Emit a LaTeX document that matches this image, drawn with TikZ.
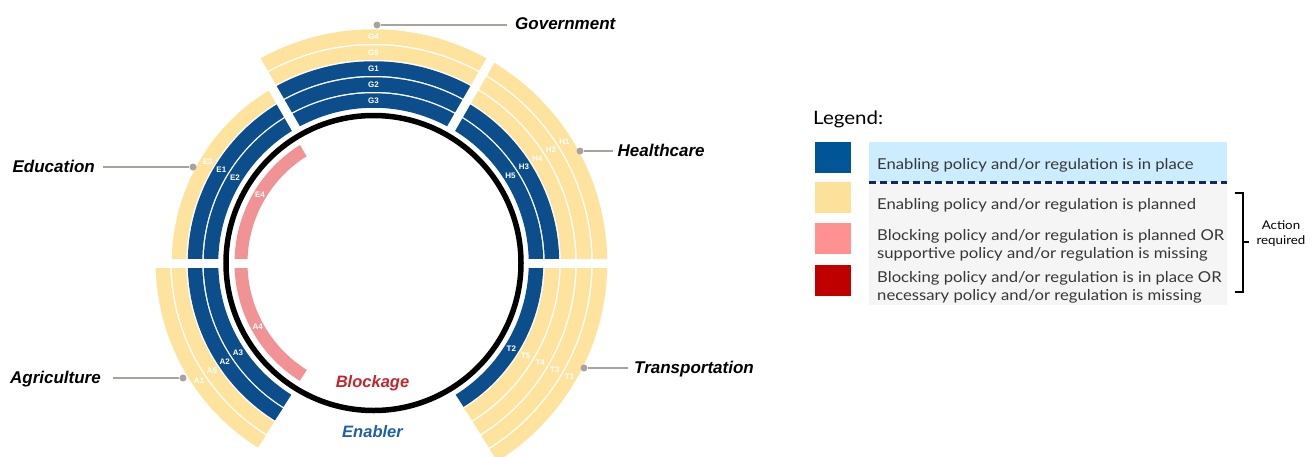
\documentclass[tikz,border=0pt]{standalone}
\usepackage{fontspec}
\setmainfont{Liberation Sans}
\newfontfamily\legfont[FakeStretch=1.11]{Lato}
\definecolor{ringblue}{RGB}{12,78,140}
\definecolor{ringyellow}{RGB}{253,227,157}
\definecolor{ringpink}{RGB}{241,146,148}
\definecolor{legblue}{RGB}{0,85,150}
\definecolor{legyellow}{RGB}{253,225,155}
\definecolor{legpink}{RGB}{255,145,145}
\definecolor{legred}{RGB}{192,0,0}
\definecolor{bandblue}{RGB}{204,236,255}
\definecolor{bandgray}{RGB}{245,245,245}
\definecolor{dashnavy}{RGB}{20,40,90}
\definecolor{leadgray}{RGB}{168,163,158}
\definecolor{legtextc}{RGB}{55,55,55}
\definecolor{blockred}{RGB}{192,39,45}
\definecolor{enablblue}{RGB}{31,95,168}
\newcommand\rarc[4]{\draw[ring,#1] ([shift={(C)}]#3:#2) arc[start angle=#3,end angle=#4,radius=#2];}
\begin{document}
\begin{tikzpicture}[x=1pt,y=1pt,
  ring/.style={line width=14.5pt},
  pinkring/.style={line width=13pt},
  lab/.style={text=white,font=\bfseries\fontsize{8}{8}\selectfont,inner sep=0pt},
  title/.style={font=\bfseries\itshape\fontsize{17}{18}\selectfont,inner sep=0pt},
  ctitle/.style={font=\bfseries\itshape\fontsize{16.5}{18}\selectfont,inner sep=0pt},
  leader/.style={draw=leadgray,line width=1.2pt},
  ldot/.style={circle,fill=leadgray,inner sep=0pt,minimum size=7pt},
  gapline/.style={white,line width=9pt},
  legsq/.style={minimum width=36pt,minimum height=31pt,inner sep=0pt},
  legtext/.style={font=\legfont\fontsize{15}{18}\selectfont,text=legtextc,anchor=base west,inner sep=0pt},
]
\useasboundingbox (0,0) rectangle (1312,-456);
\coordinate (C) at (373.5,-263);
% Government 60-120
\rarc{ringblue}{162.5}{60}{120}
\rarc{ringblue}{178.5}{60}{120}
\rarc{ringblue}{194.5}{60}{120}
\rarc{ringyellow}{210.5}{60}{120}
\rarc{ringyellow}{226.5}{60}{120}
% Healthcare 0-60
\rarc{ringblue}{162.5}{0}{60}
\rarc{ringblue}{178.5}{0}{60}
\rarc{ringyellow}{194.5}{0}{60}
\rarc{ringyellow}{210.5}{0}{60}
\rarc{ringyellow}{226.5}{0}{60}
% Education 120-180
\rarc{ringblue}{162.5}{120}{180}
\rarc{ringblue}{178.5}{120}{180}
\rarc{ringyellow}{194.5}{120}{180}
\draw[pinkring,ringpink] ([shift={(C)}]120:132.5) arc[start angle=120,end angle=180,radius=132.5];
% Agriculture 180-238
\rarc{ringblue}{162.5}{180}{238}
\rarc{ringblue}{178.5}{180}{238}
\rarc{ringyellow}{194.5}{180}{238}
\rarc{ringyellow}{210.5}{180}{238}
\draw[pinkring,ringpink] ([shift={(C)}]180:132.5) arc[start angle=180,end angle=238,radius=132.5];
% Transportation -58-0
\rarc{ringblue}{162.5}{-58}{0}
\rarc{ringyellow}{178.5}{-58}{0}
\rarc{ringyellow}{194.5}{-58}{0}
\rarc{ringyellow}{210.5}{-58}{0}
\rarc{ringyellow}{226.5}{-58}{0}
% gaps
\foreach \a in {0,60,120,180} \draw[gapline] (C) -- ([shift={(C)}]\a:242);
% black circle
\draw[line width=5.5pt] (C) circle[radius=147.5];
% ring labels
\node[lab] (g4) at ([shift={(C)}]90:226.5) {G4};
\node[lab] (g5) at ([shift={(C)}]90:210.5) {G5};
\node[lab] (g1) at ([shift={(C)}]90:194.5) {G1};
\node[lab] (g2) at ([shift={(C)}]90:178.5) {G2};
\node[lab] (g3) at ([shift={(C)}]90:162.5) {G3};
\node[lab] (h1) at ([shift={(C)}]32.5:226.5) {H1};
\node[lab] (h2) at ([shift={(C)}]32.5:210.5) {H2};
\node[lab] (h4) at ([shift={(C)}]32.5:194.5) {H4};
\node[lab] (h3) at ([shift={(C)}]32.5:178.5) {H3};
\node[lab] (h5) at ([shift={(C)}]32.5:162.5) {H5};
\node[lab] (e3) at ([shift={(C)}]148.5:194.5) {E3};
\node[lab] (e1) at ([shift={(C)}]148.5:178.5) {E1};
\node[lab] (e2) at ([shift={(C)}]148.5:162.5) {E2};
\node[lab] (e4) at ([shift={(C)}]149:132.5) {E4};
\node[lab] (a1) at ([shift={(C)}]214:210.5) {A1};
\node[lab] (a5) at ([shift={(C)}]213.8:194.5) {A5};
\node[lab] (a2) at ([shift={(C)}]213.5:178.5) {A2};
\node[lab] (a3) at ([shift={(C)}]213.5:162.5) {A3};
\node[lab] (a4) at ([shift={(C)}]209:132.5) {A4};
\node[lab] (t1) at ([shift={(C)}]-30:226.5) {T1};
\node[lab] (t3) at ([shift={(C)}]-30.5:210.5) {T3};
\node[lab] (t4) at ([shift={(C)}]-31:194.5) {T4};
\node[lab] (t5) at ([shift={(C)}]-31.5:178.5) {T5};
\node[lab] (t2) at ([shift={(C)}]-32:162.5) {T2};
% leaders and titles
\node[ldot] (gd) at (377,-25) {};
\coordinate (ge) at (507,-25);
\draw[leader] (gd) -- (ge);
\node[title,anchor=base west] (gov) at (515,-29) {Government};
\node[ldot] (hd) at (580,-151) {};
\coordinate (he) at (613,-151);
\draw[leader] (hd) -- (he);
\node[title,anchor=base west] (hea) at (617.5,-156) {Healthcare};
\node[ldot] (ed) at (193,-167) {};
\coordinate (ee) at (103,-167);
\draw[leader] (ed) -- (ee);
\node[title,anchor=base east] (edu) at (95,-172) {Education};
\node[ldot] (ad) at (183,-378) {};
\coordinate (ae) at (113,-378);
\draw[leader] (ad) -- (ae);
\node[title,anchor=base east] (agr) at (101,-383.5) {Agriculture};
\node[ldot] (td) at (584,-368) {};
\coordinate (te) at (628,-368);
\draw[leader] (td) -- (te);
\node[title,anchor=base west] (tra) at (634,-373) {Transportation};
\node[ctitle,anchor=base,text=blockred] (blk) at (372.5,-387) {Blockage};
\node[ctitle,anchor=base,text=enablblue] (enb) at (372.5,-437) {Enabler};
% legend
\node[font=\legfont\fontsize{18.5}{20}\selectfont,anchor=base west,inner sep=0pt] (legt) at (813,-124) {Legend:};
\fill[bandblue] (869,-142) rectangle (1227,-182);
\fill[bandgray] (869,-183) rectangle (1227,-305);
\draw[dashnavy,line width=2.5pt,dash pattern=on 7pt off 4pt] (869,-182.5) -- (1227,-182.5);
\node[legsq,fill=legblue] (sq1) at (833,-157.5) {};
\node[legsq,fill=legyellow] (sq2) at (833,-197.5) {};
\node[legsq,fill=legpink] (sq3) at (833,-238.5) {};
\node[legsq,fill=legred] (sq4) at (833,-280.5) {};
\node[legtext] (l1) at (877,-169) {Enabling policy and/or regulation is in place};
\node[legtext] (l2) at (877,-209) {Enabling policy and/or regulation is planned};
\node[legtext] (l3a) at (877,-240) {Blocking policy and/or regulation is planned OR};
\node[legtext] (l3b) at (877,-258) {supportive policy and/or regulation is missing};
\node[legtext] (l4a) at (877,-282) {Blocking policy and/or regulation is in place OR};
\node[legtext] (l4b) at (877,-300) {necessary policy and/or regulation is missing};
\coordinate (b1) at (1235,-193);
\coordinate (b2) at (1243,-193);
\coordinate (b3) at (1243,-292);
\coordinate (b4) at (1235,-292);
\coordinate (bm) at (1243,-242);
\coordinate (bt) at (1249,-242);
\draw[line width=1.8pt] (b1) -- (b2) -- (b3) -- (b4);
\draw[line width=1.8pt] (bm) -- (bt);
\node[font=\legfont\fontsize{12}{15}\selectfont,align=center,text=black,inner sep=0pt] (act) at (1281,-234) {Action\\required};
\end{tikzpicture}
\end{document}
